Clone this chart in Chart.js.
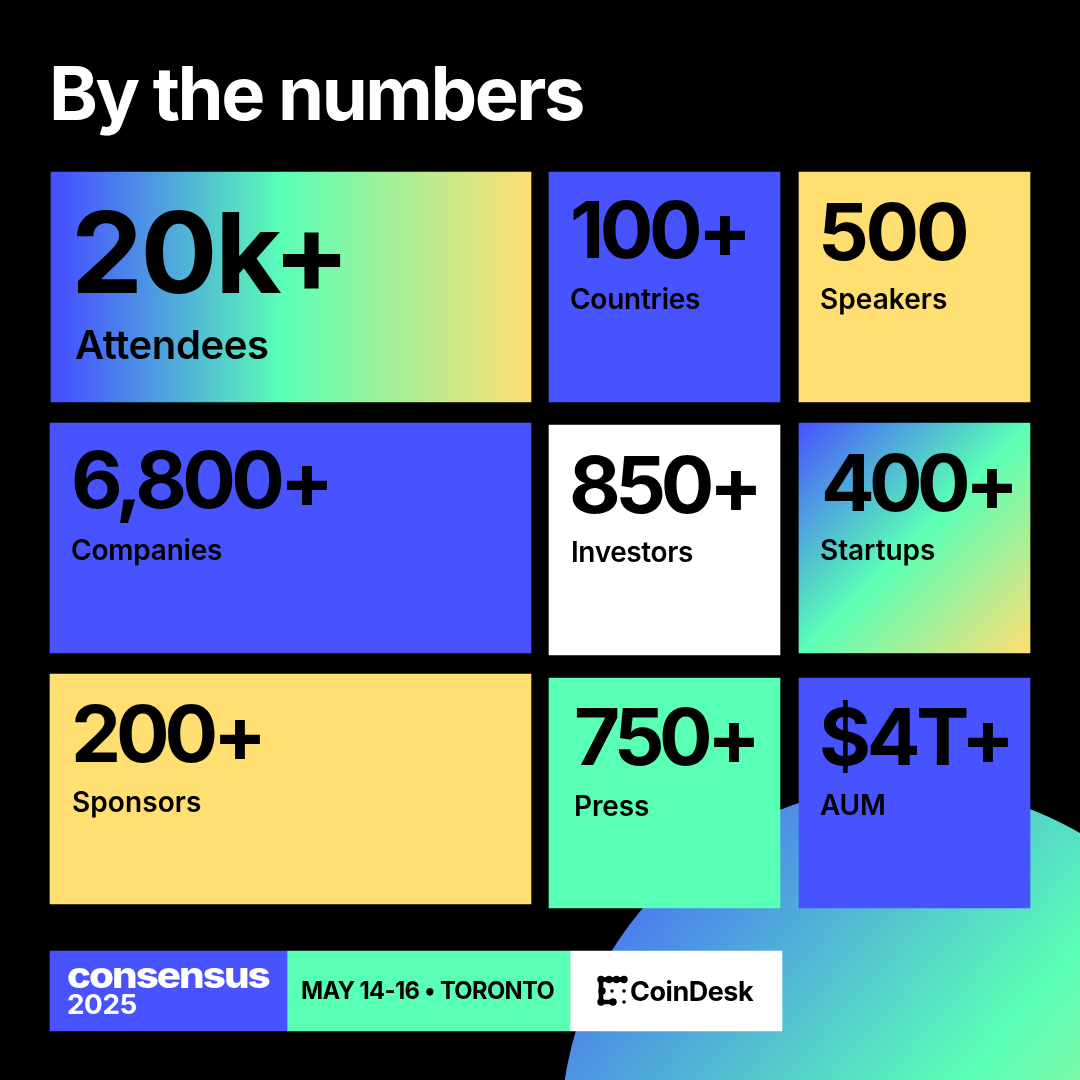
<!DOCTYPE html>
<html>
<head>
<meta charset="utf-8">
<title>By the numbers</title>
<script src="https://cdn.jsdelivr.net/npm/chart.js@4"></script>
<style>
  html, body { margin: 0; padding: 0; background: #000; }
  canvas { display: block; }
</style>
</head>
<body>
<canvas id="myChart" width="1080" height="1080"></canvas>
<script>
const titleText = 'By the numbers';
const statValues = ['20k+', '100+', '500', '6,800+', '850+', '400+', '200+', '750+', '$4T+'];
const statLabels = ['Attendees', 'Countries', 'Speakers', 'Companies', 'Investors', 'Startups', 'Sponsors', 'Press', 'AUM'];
const footerTexts = ['consensus', '2025', 'MAY 14-16 • TORONTO', 'CoinDesk'];

// tile layout, same order as the stats
const BLUE = '#4653ff', GREEN = '#5affb6', YELLOW = '#ffde72', WHITE = '#ffffff';
const tileLeft = [51, 549, 799, 50, 549, 799, 50, 549, 799];
const tileRight = [531, 780, 1030, 531, 780, 1030, 531, 780, 1030];
const tileTop = [172, 172, 172, 423, 425, 423, 674, 678, 678];
const tileBottom = [402, 402, 402, 653, 655, 653, 904, 908, 908];
const tileFill = ['sweep', BLUE, YELLOW, BLUE, WHITE, 'corner', YELLOW, GREEN, BLUE];

// text layout: ink left, ink right, baseline, font size
const valueLeft = [77, 573, 822, 74, 572, 824, 75, 576, 822];
const valueRight = [341, 745, 967, 327, 756, 1012, 260, 754, 1008];
const valueBase = [293, 258, 260, 508, 513, 511, 762, 765, 765];
const valueSize = [112, 78, 78, 78, 78, 78, 78, 78, 78];
const labelLeft = [75, 571, 821, 72, 573, 821, 73, 576, 820];
const labelRight = [268, 700, 947, 222, 693, 935, 201, 649, 884];
const labelBase = [359, 309, 309, 560, 562, 560, 812, 816, 815];
const labelSize = [40, 28, 28, 28, 28, 28, 28, 28, 28];

const footerLeft = [50, 287, 570];
const footerRight = [287, 570, 782];
const footerFill = [BLUE, GREEN, WHITE];

function tileGradient(ctx, kind, i) {
  let g;
  if (kind === 'sweep') {
    g = ctx.createLinearGradient(tileLeft[i] + 12, 0, tileRight[i], 0);
    g.addColorStop(0, BLUE);
    g.addColorStop(0.47, GREEN);
    g.addColorStop(1, YELLOW);
  } else {
    g = ctx.createLinearGradient(tileLeft[i], tileTop[i], tileRight[i], tileBottom[i]);
    g.addColorStop(0, BLUE);
    g.addColorStop(0.5, GREEN);
    g.addColorStop(1, YELLOW);
  }
  return g;
}

function circleGradient(ctx) {
  const g = ctx.createLinearGradient(720, 640, 1410, 1260);
  g.addColorStop(0, BLUE);
  g.addColorStop(0.51, GREEN);
  g.addColorStop(1, YELLOW);
  return g;
}

// stretch letter spacing so the ink covers left..right, glyphs widened by sx
function fitText(ctx, text, left, right, base, font, sx = 1) {
  ctx.save();
  ctx.font = font;
  ctx.letterSpacing = '0px';
  let m = ctx.measureText(text);
  const ink = m.actualBoundingBoxLeft + m.actualBoundingBoxRight;
  const spacing = ((right - left) / sx - ink) / (text.length - 1);
  ctx.letterSpacing = spacing + 'px';
  m = ctx.measureText(text);
  ctx.translate(left, base);
  ctx.scale(sx, 1);
  ctx.fillText(text, m.actualBoundingBoxLeft, 0);
  ctx.restore();
}

function drawLogoMark(ctx) {
  ctx.fillStyle = '#000';
  ctx.strokeStyle = '#000';
  ctx.lineWidth = 4.6;
  ctx.beginPath();
  ctx.moveTo(624, 979.5);
  ctx.lineTo(601, 979.5);
  ctx.lineTo(601, 1002);
  ctx.lineTo(613, 1002);
  ctx.stroke();
  const blobs = [[601, 979.5], [609, 979.5], [616.5, 979.5], [624, 979.5], [602, 991], [601, 1002], [613, 1002]];
  blobs.forEach(([x, y]) => {
    ctx.beginPath();
    ctx.arc(x, y, 3.7, 0, Math.PI * 2);
    ctx.fill();
  });
  const dots = [[612, 991], [624, 991], [624, 1002]];
  dots.forEach(([x, y]) => {
    ctx.beginPath();
    ctx.arc(x, y, 1.8, 0, Math.PI * 2);
    ctx.fill();
  });
}

const textPlugin = {
  id: 'tileText',
  afterDatasetsDraw(chart) {
    const ctx = chart.ctx;
    ctx.save();
    ctx.textBaseline = 'alphabetic';
    ctx.textAlign = 'left';
    ctx.fillStyle = '#fff';
    fitText(ctx, titleText, 53, 583, 120, '700 74px Inter');
    ctx.fillStyle = '#000';
    statValues.forEach((v, i) => {
      fitText(ctx, v, valueLeft[i], valueRight[i], valueBase[i], '700 ' + valueSize[i] + 'px Inter', 1.02);
      fitText(ctx, statLabels[i], labelLeft[i], labelRight[i], labelBase[i], '600 ' + labelSize[i] + 'px Inter');
    });
    ctx.fillStyle = '#fff';
    fitText(ctx, footerTexts[0], 68, 270, 988, '800 36px Inter', 1.12);
    fitText(ctx, footerTexts[1], 68, 137, 1014, '700 27px Inter', 1.03);
    ctx.fillStyle = '#000';
    fitText(ctx, footerTexts[2], 302, 554, 999, '700 24.5px Inter', 0.97);
    fitText(ctx, footerTexts[3], 631, 754, 1001, '700 27px Inter');
    drawLogoMark(ctx);
    ctx.restore();
  }
};

const tileSets = statValues.map((v, i) => ({
  label: statLabels[i],
  type: 'bar',
  order: 1,
  grouped: false,
  barThickness: tileRight[i] - tileLeft[i],
  backgroundColor: (c) => {
    const f = tileFill[i];
    return f === 'sweep' || f === 'corner' ? tileGradient(c.chart.ctx, f, i) : f;
  },
  data: [{ x: (tileLeft[i] + tileRight[i]) / 2, y: [tileTop[i], tileBottom[i]] }]
}));

const footerSets = footerFill.map((f, i) => ({
  label: 'footer' + i,
  type: 'bar',
  order: 1,
  grouped: false,
  barThickness: footerRight[i] - footerLeft[i],
  backgroundColor: f,
  data: [{ x: (footerLeft[i] + footerRight[i]) / 2, y: [951, 1031] }]
}));

const circleSet = {
  label: 'circle',
  type: 'bubble',
  order: 2,
  backgroundColor: (c) => circleGradient(c.chart.ctx),
  borderWidth: 0,
  data: [{ x: 906, y: 1131, r: 345 }]
};

var ctx = document.getElementById('myChart');
var myChart = new Chart(ctx, {
  data: { datasets: [circleSet].concat(tileSets, footerSets) },
  plugins: [textPlugin],
  options: {
    responsive: false,
    animation: false,
    devicePixelRatio: 1,
    layout: { padding: 0, autoPadding: false },
    plugins: { legend: { display: false }, tooltip: { enabled: false }, title: { display: false } },
    scales: {
      x: { type: 'linear', min: 0, max: 1080, offset: false, display: false },
      y: { type: 'linear', min: 0, max: 1080, reverse: true, display: false }
    }
  }
});
</script>
</body>
</html>
